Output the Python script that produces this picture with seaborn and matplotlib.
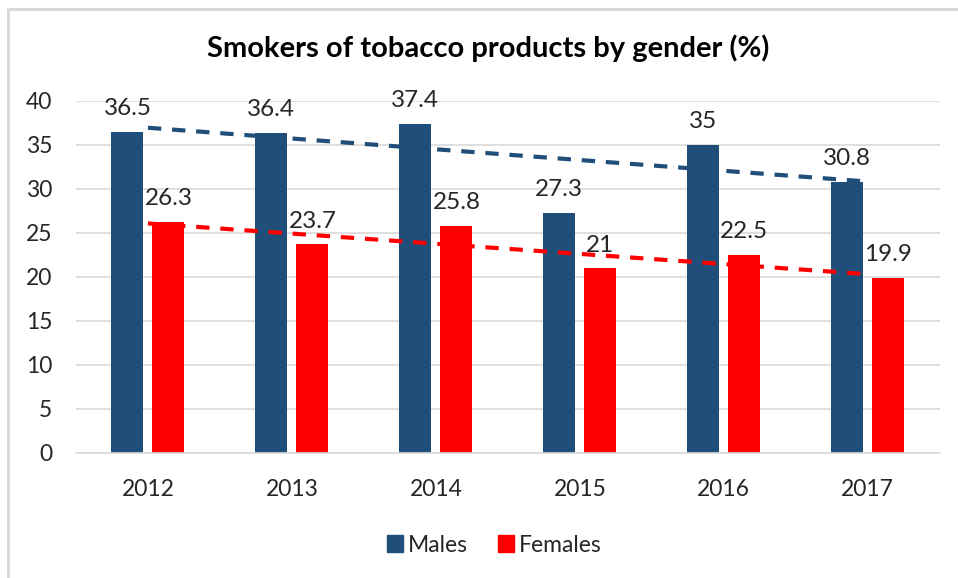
import numpy as np
import pandas as pd
import matplotlib
matplotlib.use("Agg")
import matplotlib.pyplot as plt
from matplotlib.lines import Line2D
import seaborn as sns

years = ["2012", "2013", "2014", "2015", "2016", "2017"]
males = [36.5, 36.4, 37.4, 27.3, 35, 30.8]
females = [26.3, 23.7, 25.8, 21, 22.5, 19.9]
y_ticks = [0, 5, 10, 15, 20, 25, 30, 35, 40]

NAVY = "#1F4E79"
RED = "#FF0000"
GRID = "#D9D9D9"
TEXT = "#262626"

sns.set_theme(style="white")
plt.rcParams["font.family"] = ["Lato", "DejaVu Sans"]

df = pd.DataFrame({
    "Year": years * 2,
    "Share": males + females,
    "Gender": ["Males"] * len(years) + ["Females"] * len(years),
})

fig = plt.figure(figsize=(9.58, 5.78), dpi=100)
ax = fig.add_axes([0.0793, 0.2163, 0.9017, 0.609])

sns.barplot(data=df, x="Year", y="Share", hue="Gender",
            palette={"Males": NAVY, "Females": RED},
            width=0.57, gap=0.22, saturation=1, ax=ax, legend=False,
            edgecolor="none")

for container in ax.containers:
    ax.bar_label(container, fmt="%g", padding=9, fontsize=17.5, color=TEXT)

# linear trend lines across the category centres
xs = np.arange(len(years))
for series, color in ((males, NAVY), (females, RED)):
    slope, intercept = np.polyfit(xs, series, 1)
    ax.plot([xs[0], xs[-1]], [intercept, intercept + slope * xs[-1]],
            color=color, lw=3, ls=(0, (3.2, 2.6)), zorder=4)

ax.set_ylim(0, 40)
ax.set_xlim(-0.5, len(years) - 0.5)
ax.set_yticks(y_ticks)
ax.yaxis.grid(True, color=GRID, lw=1.2)
ax.set_axisbelow(True)
for side in ("top", "right", "left"):
    ax.spines[side].set_visible(False)
ax.spines["bottom"].set_color(GRID)
ax.spines["bottom"].set_linewidth(1.2)
ax.tick_params(axis="both", length=0, labelsize=16.5, labelcolor=TEXT)
ax.tick_params(axis="y", pad=17)
ax.tick_params(axis="x", pad=19)
ax.set_xlabel("")
ax.set_ylabel("")

fig.text(0.51, 0.917, "Smokers of tobacco products by gender (%)",
         ha="center", va="center", fontsize=21, fontweight="bold", color="black")

handles = [plt.Rectangle((0, 0), 1, 1, color=NAVY), plt.Rectangle((0, 0), 1, 1, color=RED)]
fig.legend(handles, ["Males", "Females"], loc="center", bbox_to_anchor=(0.516, 0.057),
           ncol=2, frameon=False, fontsize=16.5, handlelength=0.72, handleheight=0.72,
           handletextpad=0.2, columnspacing=1.3, labelcolor=TEXT)

# thin frame along the top and left edges of the chart area
fig.add_artist(Line2D([0.0084, 1.0], [0.984, 0.984], transform=fig.transFigure,
                      color=GRID, lw=2.2))
fig.add_artist(Line2D([0.0084, 0.0084], [0.0, 0.984], transform=fig.transFigure,
                      color=GRID, lw=2.2))

fig.savefig("out.png", dpi=100)
